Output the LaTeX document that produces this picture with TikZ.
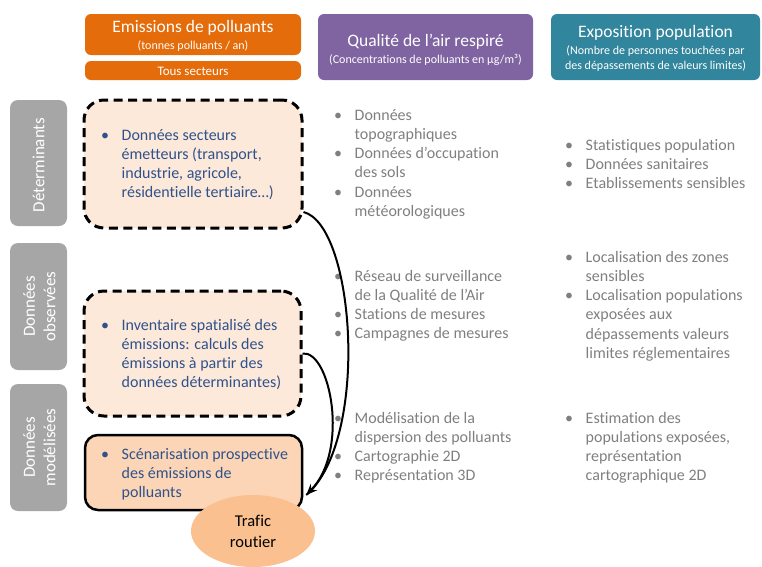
\documentclass[tikz,border=0pt]{standalone}
\usepackage{fontspec}
\setmainfont{Carlito}[Ligatures=CommonOff]
\usetikzlibrary{shapes.geometric,arrows.meta}
\definecolor{orangeH}{RGB}{228,108,10}
\definecolor{purpleH}{RGB}{128,100,162}
\definecolor{tealH}{RGB}{49,133,156}
\definecolor{sidegray}{RGB}{166,166,166}
\definecolor{peachA}{RGB}{253,233,217}
\definecolor{peachB}{RGB}{251,213,181}
\definecolor{peachC}{RGB}{250,192,144}
\definecolor{bluetxt}{RGB}{47,82,140}
\definecolor{graytxt}{RGB}{127,127,127}
\newcommand\bl{\makebox[20.5pt][l]{•}}
\newenvironment{blt}{\begin{tabular}[t]{@{}l@{}l@{}}}{\end{tabular}}
\tikzset{
  hdrbox/.style={rounded corners=6pt, inner sep=0pt, anchor=center},
  hdrtitle/.style={text=white, inner sep=0pt, font=\fontsize{17.5}{20}\selectfont},
  hdrsub/.style={text=white, inner sep=0pt, font=\fontsize{12}{14.5}\selectfont, align=center},
  sidebox/.style={fill=sidegray, rounded corners=8pt, minimum width=57pt, inner sep=0pt},
  sidetxt/.style={text=white, rotate=90, align=center, inner sep=0pt, font=\fontsize{17}{20.5}\selectfont},
  dbox/.style={draw=black, fill=peachA, line width=3pt, dash pattern=on 9pt off 5.5pt, rounded corners=20pt, inner sep=0pt},
  sbox/.style={draw=black, fill=peachB, line width=2.5pt, rounded corners=13pt, inner sep=0pt},
  blist/.style={anchor=base west, inner sep=0pt, font=\fontsize{16}{19.3}\selectfont, text=bluetxt},
  glist/.style={blist, text=graytxt},
  conn/.style={line width=2pt, draw=black},
}
\begin{document}
\begin{tikzpicture}[x=1pt,y=-1pt]
\useasboundingbox (0,0) rectangle (762,566);

% headers
\node[hdrbox, fill=orangeH, minimum width=216pt, minimum height=41pt] (h1) at (193,34.5) {};
\node[hdrtitle] (h1t) at (193,28) {Emissions de polluants};
\node[hdrsub] (h1s) at (193,46.5) {(tonnes polluants / an)};
\node[hdrbox, fill=orangeH, minimum width=216pt, minimum height=19pt] (h1b) at (193,70.5) {};
\node[hdrsub, font=\fontsize{13}{15}\selectfont] (h1bt) at (193,71) {Tous secteurs};

\node[hdrbox, fill=purpleH, minimum width=215pt, minimum height=66pt] (h2) at (425.5,47) {};
\node[hdrtitle] (h2t) at (425.5,42) {Qualité de l’air respiré};
\node[hdrsub] (h2s) at (425.5,60) {(Concentrations de polluants en µg/m³)};

\node[hdrbox, fill=tealH, minimum width=209pt, minimum height=66pt] (h3) at (655.5,47) {};
\node[hdrtitle] (h3t) at (655.5,33) {Exposition population};
\node[hdrsub] (h3s) at (655.5,58.5) {(Nombre de personnes touchées par\\des dépassements de valeurs limites)};

% side labels
\node[sidebox, minimum height=126pt] (s1) at (38.5,163) {};
\node[sidetxt] (s1t) at ([yshift=-2pt]s1.center) {Déterminants};
\node[sidebox, minimum height=127pt] (s2) at (38.5,306.5) {};
\node[sidetxt] (s2t) at ([xshift=1pt]s2.center) {Données\\observées};
\node[sidebox, minimum height=127pt] (s3) at (38.5,447.5) {};
\node[sidetxt] (s3t) at ([xshift=1pt]s3.center) {Données\\modélisées};

% emission boxes
\node[dbox, minimum width=218pt, minimum height=128pt] (b1) at (193,164) {};
\node[dbox, minimum width=217pt, minimum height=125pt] (b2) at (192.5,353.5) {};
\node[sbox, minimum width=217pt, minimum height=75pt] (b3) at (193.5,472.5) {};
\node[ellipse, fill=peachC, minimum width=124pt, minimum height=72pt, inner sep=0pt, align=center, font=\fontsize{16.5}{21}\selectfont] (tr) at (253,531) {Trafic\\routier};

\node[blist] (l1) at (101,140) {\begin{blt}\bl & Données secteurs\\ & émetteurs (transport,\\ & industrie, agricole,\\ & résidentielle tertiaire…)\end{blt}};
\node[blist] (l2) at (101,330) {\begin{blt}\bl & Inventaire spatialisé des\\ & émissions: calculs des\\ & émissions à partir des\\ & données déterminantes)\end{blt}};
\node[blist] (l3) at (101,459) {\begin{blt}\bl & Scénarisation prospective\\ & des émissions de\\ & polluants\end{blt}};

% air quality column
\node[glist] (q1) at (334,120) {\begin{blt}\bl & Données\\ & topographiques\\ \bl & Données d’occupation\\ & des sols\\ \bl & Données\\ & météorologiques\end{blt}};
\node[glist] (q2) at (334,281) {\begin{blt}\bl & Réseau de surveillance\\ & de la Qualité de l’Air\\ \bl & Stations de mesures\\ \bl & Campagnes de mesures\end{blt}};
\node[glist] (q3) at (334,423) {\begin{blt}\bl & Modélisation de la\\ & dispersion des polluants\\ \bl & Cartographie 2D\\ \bl & Représentation 3D\end{blt}};

% exposure column
\node[glist] (e1) at (565,150) {\begin{blt}\bl & Statistiques population\\ \bl & Données sanitaires\\ \bl & Etablissements sensibles\end{blt}};
\node[glist] (e2) at (565,262) {\begin{blt}\bl & Localisation des zones\\ & sensibles\\ \bl & Localisation populations\\ & exposées aux\\ & dépassements valeurs\\ & limites réglementaires\end{blt}};
\node[glist] (e3) at (565,423) {\begin{blt}\bl & Estimation des\\ & populations exposées,\\ & représentation\\ & cartographique 2D\end{blt}};

% connectors
\coordinate (tip) at ([xshift=3pt,yshift=-22.5pt]b3.east);
\draw[conn] ([yshift=-48pt]b1.east) .. controls (355,225) and (370,440) .. (tip);
\draw[conn, -{Stealth[length=11pt,width=9pt]}] (b2.east) .. controls (330,350) and (350,450) .. (tip);
\end{tikzpicture}
\end{document}
